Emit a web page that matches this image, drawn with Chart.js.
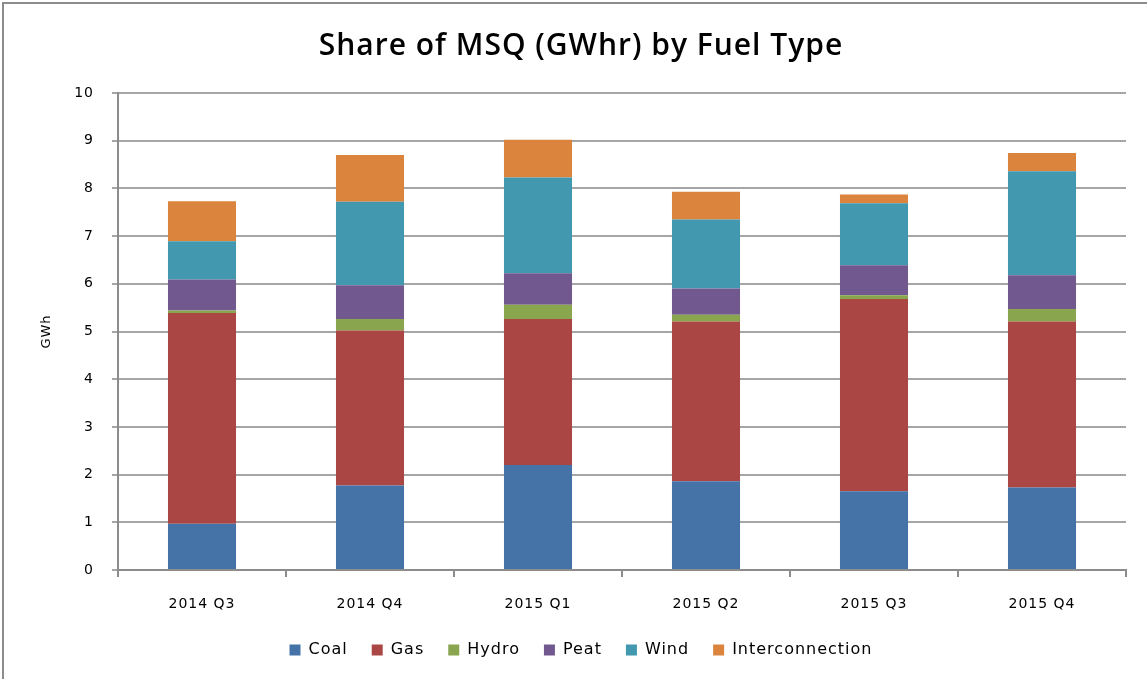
<!DOCTYPE html>
<html>
<head>
<meta charset="utf-8">
<script src="https://cdn.jsdelivr.net/npm/chart.js@4"></script>
<style>
  body { margin: 0; background: #fff; }
  #wrap { position: relative; width: 1147px; height: 679px; }
  #frame { position: absolute; left: 2px; top: 2px; right: -4px; bottom: -4px; border: 2px solid #8c8c8c; pointer-events: none; }
</style>
</head>
<body>
<div id="wrap">
  <canvas id="msqChart" width="1147" height="679"></canvas>
  <div id="frame"></div>
</div>
<script>
// quarters
const quarters = ['2014 Q3', '2014 Q4', '2015 Q1', '2015 Q2', '2015 Q3', '2015 Q4'];

// GWh per fuel type
const coal = [0.97, 1.77, 2.20, 1.86, 1.65, 1.73];
const gas = [4.42, 3.25, 3.06, 3.35, 4.03, 3.48];
const hydro = [0.05, 0.24, 0.30, 0.14, 0.08, 0.26];
const peat = [0.65, 0.71, 0.66, 0.55, 0.63, 0.71];
const wind = [0.80, 1.75, 2.01, 1.45, 1.30, 2.18];
const interconnection = [0.84, 0.98, 0.79, 0.58, 0.18, 0.38];

// y axis ticks
const yTicks = [0, 1, 2, 3, 4, 5, 6, 7, 8, 9, 10];

const textFont = "'DejaVu Sans', sans-serif";

// espacement des lettres (le canvas perd cet état à chaque resize)
const spacingPlugin = {
    id: 'spacing',
    beforeUpdate(chart) { chart.ctx.letterSpacing = '1px'; },
    beforeDraw(chart) { chart.ctx.letterSpacing = '1px'; }
};

function serie(label, data, color) {
    return {
        label: label,
        data: data,
        backgroundColor: color,
        borderWidth: 0,
        barPercentage: 0.405,
        categoryPercentage: 1.0
    };
}

const ctx = document.getElementById('msqChart').getContext('2d');
const msqChart = new Chart(ctx, {
    type: 'bar',
    data: {
        labels: quarters,
        datasets: [
            serie('Coal', coal, '#4572A7'),
            serie('Gas', gas, '#AA4643'),
            serie('Hydro', hydro, '#89A54E'),
            serie('Peat', peat, '#71588F'),
            serie('Wind', wind, '#4198AF'),
            serie('Interconnection', interconnection, '#DB843D')
        ]
    },
    options: {
        responsive: false,
        animation: false,
        layout: {
            padding: { left: 18, right: 3, top: 0, bottom: 11 }
        },
        plugins: {
            title: {
                display: true,
                text: 'Share of MSQ (GWhr) by Fuel Type',
                color: '#000',
                font: { family: "'Open Sans', sans-serif", size: 30, weight: '600' },
                padding: { top: 28, bottom: 29 }
            },
            legend: {
                display: true,
                position: 'bottom',
                onClick: null,
                labels: {
                    color: '#000',
                    font: { family: textFont, size: 16 },
                    boxWidth: 11,
                    boxHeight: 11,
                    padding: 24
                }
            },
            tooltip: { enabled: false }
        },
        scales: {
            x: {
                stacked: true,
                offset: true,
                grid: {
                    display: true,
                    offset: true,
                    drawOnChartArea: false,
                    drawTicks: true,
                    tickLength: 7,
                    color: '#8c8c8c',
                    lineWidth: 2
                },
                border: { color: '#8c8c8c', width: 2 },
                ticks: {
                    color: '#000',
                    font: { family: textFont, size: 14 },
                    padding: 19,
                    maxRotation: 0
                },
                afterFit(scale) { scale.height = 48; }
            },
            y: {
                stacked: true,
                min: 0,
                max: 10,
                afterBuildTicks(scale) { scale.ticks = yTicks.map(v => ({ value: v })); },
                grid: {
                    color: '#a6a6a6',
                    lineWidth: 2,
                    drawTicks: true,
                    tickLength: 6
                },
                border: { color: '#8c8c8c', width: 2 },
                ticks: {
                    color: '#000',
                    font: { family: textFont, size: 14 },
                    padding: 18
                },
                title: {
                    display: true,
                    text: 'GWh',
                    color: '#000',
                    font: { family: textFont, size: 13 },
                    padding: { top: 21, bottom: 0 }
                },
                afterFit(scale) { scale.width = 100; }
            },
            // axe vide à droite, juste pour garder la marge du graphique
            yRight: {
                position: 'right',
                display: true,
                grid: { display: false },
                border: { display: false },
                ticks: { display: false },
                afterFit(scale) { scale.width = 18; }
            }
        }
    },
    plugins: [spacingPlugin]
});
</script>
</body>
</html>
